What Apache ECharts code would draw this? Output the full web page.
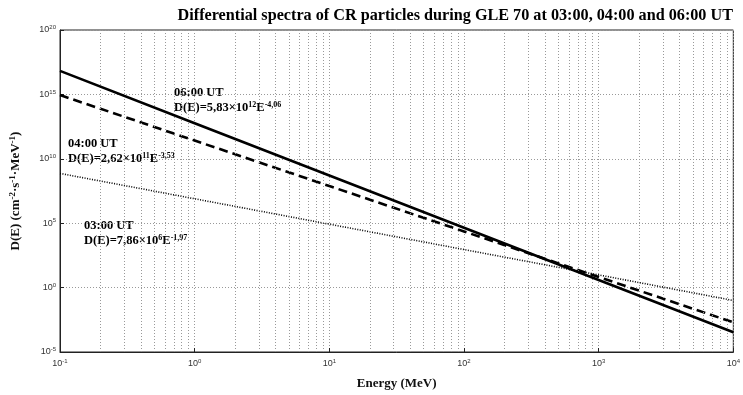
<!DOCTYPE html>
<html>
<head>
<meta charset="utf-8">
<script src="https://cdn.jsdelivr.net/npm/echarts@6/dist/echarts.min.js"></script>
<style>html,body{margin:0;padding:0;background:#fff}#c{width:743px;height:395px}</style>
</head>
<body>
<div id="c"></div>
<script>
// Energies (MeV) where the spectra were read
const energy = [0.1, 1, 10, 100, 1000, 10000];
// D(E) values (cm^-2 s^-1 MeV^-1)
const spec0600 = [6.7e16, 5.8e12, 5.1e8, 4.4e4, 3.9e0, 3.4e-4];
const spec0400 = [8.9e14, 2.6e11, 7.7e7, 2.3e4, 6.7e0, 2.0e-3];
const spec0300 = [7.3e8, 7.9e6, 8.4e4, 9.0e2, 9.7e0, 1.0e-1];
// Axis extents / ticks
const xMin = 0.1, xMax = 10000;
const yMin = 1e-5, yMax = 1e20;
const xDecades = [0.1, 1, 10, 100, 1000];
const minorFactors = [2, 3, 4, 5, 6, 7, 8, 9];

const chart = echarts.init(document.getElementById('c'), null, {renderer: 'canvas'});

const minorLines = [];
xDecades.forEach(d => minorFactors.forEach(f => minorLines.push({xAxis: +(d * f).toPrecision(6)})));

function pairs(ys) { return energy.map((e, i) => [e, ys[i]]); }
function expLabel(v) {
  const e = Math.round(Math.log10(v));
  return '{b|10}{s|' + e + '}';
}
const tickRich = {
  b: {fontFamily: 'Liberation Sans, Arial', fontSize: 9, color: '#333'},
  s: {fontFamily: 'Liberation Sans, Arial', fontSize: 6, color: '#333', verticalAlign: 'top', padding: [0, 0, 5, 0]}
};
const serif = 'Liberation Serif, Times New Roman, serif';
const annRich = {
  t: {fontFamily: serif, fontSize: 12.5, fontWeight: 'bold', color: '#111'},
  s: {fontFamily: serif, fontSize: 8, fontWeight: 'bold', color: '#111', verticalAlign: 'top', padding: [0, 0, 6, 0]}
};

chart.setOption({
  animation: false,
  backgroundColor: '#fff',
  title: {
    text: 'Differential spectra of CR particles during GLE 70 at 03:00, 04:00 and 06:00 UT',
    right: 5, top: 3,
    textStyle: {fontFamily: serif, fontSize: 16.2, fontWeight: 'bold', color: '#000'}
  },
  grid: {left: 55, right: 2, top: 30, bottom: 36, show: true, borderColor: '#222', borderWidth: 1, containLabel: false},
  xAxis: {
    type: 'log', logBase: 10, min: xMin, max: xMax,
    name: 'Energy (MeV)', nameLocation: 'middle', nameGap: 25,
    nameTextStyle: {fontFamily: serif, fontSize: 13, fontWeight: 'bold', color: '#111'},
    axisLine: {show: true, onZero: false, lineStyle: {color: '#222'}},
    axisTick: {show: true, inside: true, length: 4, lineStyle: {color: '#222'}},
    axisLabel: {formatter: expLabel, rich: tickRich, margin: 6},
    splitLine: {show: true, lineStyle: {color: '#999', type: [1, 2], width: 1}}
  },
  yAxis: {
    type: 'log', logBase: 10, min: yMin, max: yMax, interval: 5,
    name: 'D(E) (cm{s|-2}·s{s|-1}·MeV{s|-1})', nameLocation: 'middle', nameGap: 37, nameRotate: 90,
    nameTextStyle: {fontFamily: serif, fontSize: 13, fontWeight: 'bold', color: '#111',
      rich: {s: {fontFamily: serif, fontSize: 9, fontWeight: 'bold', color: '#111', verticalAlign: 'top', padding: [0, 0, 6, 0]}}},
    axisLine: {show: true, onZero: false, lineStyle: {color: '#222'}},
    axisTick: {show: true, inside: true, length: 4, lineStyle: {color: '#222'}},
    axisLabel: {formatter: expLabel, rich: tickRich, margin: 4},
    splitLine: {show: true, lineStyle: {color: '#999', type: [1, 2], width: 1}}
  },
  series: [
    {
      name: '06:00', type: 'line', data: pairs(spec0600), showSymbol: false, symbol: 'none',
      lineStyle: {color: '#000', width: 2.6, type: 'solid'}, z: 5,
      markLine: {silent: true, symbol: 'none', label: {show: false}, animation: false,
        lineStyle: {color: '#999', type: [1, 2], width: 1}, data: minorLines}
    },
    {
      name: '04:00', type: 'line', data: pairs(spec0400), showSymbol: false, symbol: 'none',
      lineStyle: {color: '#000', width: 2.6, type: [9, 5]}, z: 4
    },
    {
      name: '03:00', type: 'line', data: pairs(spec0300), showSymbol: false, symbol: 'none',
      lineStyle: {color: '#000', width: 1.6, type: [1, 1.5]}, z: 3
    }
  ],
  graphic: [
    {type: 'text', left: 174, top: 86, style: {text: '{t|06:00 UT}', rich: annRich}},
    {type: 'text', left: 174, top: 101, style: {text: '{t|D(E)=5,83×10}{s|12}{t|E}{s|-4,06}', rich: annRich}},
    {type: 'text', left: 68, top: 137, style: {text: '{t|04:00 UT}', rich: annRich}},
    {type: 'text', left: 68, top: 152, style: {text: '{t|D(E)=2,62×10}{s|11}{t|E}{s|-3,53}', rich: annRich}},
    {type: 'text', left: 84, top: 219, style: {text: '{t|03:00 UT}', rich: annRich}},
    {type: 'text', left: 84, top: 234, style: {text: '{t|D(E)=7,86×10}{s|6}{t|E}{s|-1,97}', rich: annRich}}
  ]
});
</script>
</body>
</html>
